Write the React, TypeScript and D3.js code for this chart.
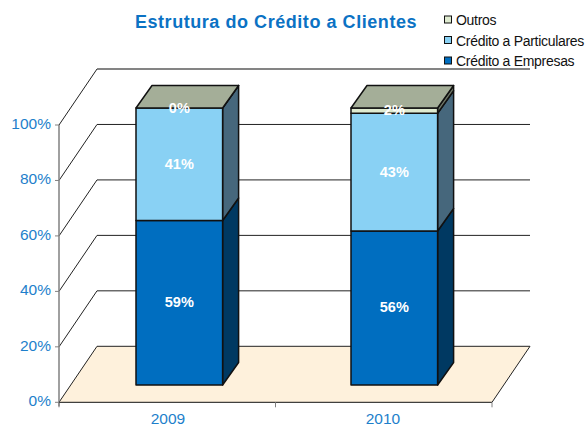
import React from "react";
import * as d3 from "d3";

const categories = ["2009", "2010"];
const seriesNames = ["Crédito a Empresas", "Crédito a Particulares", "Outros"];
const empresas = [59.4, 55.6];
const particulares = [40.6, 42.5];
const outros = [0, 1.9];
const yTicks = [0, 20, 40, 60, 80, 100];
const legendOrder = ["Outros", "Crédito a Particulares", "Crédito a Empresas"];

const frontFill: Record<string, string> = {
  "Crédito a Empresas": "#006EC0",
  "Crédito a Particulares": "#89D1F4",
  Outros: "#DFEBD0",
};
const sideFill: Record<string, string> = {
  "Crédito a Empresas": "#003962",
  "Crédito a Particulares": "#46677C",
  Outros: "#707868",
};
const topFill: Record<string, string> = {
  "Crédito a Empresas": "#00508C",
  "Crédito a Particulares": "#64889C",
  Outros: "#A4AE98",
};

const FONT = "'Liberation Sans', Arial, sans-serif";
const BLUE = "#1E7FCB";

export default function App() {
  const y = d3.scaleLinear().domain([0, 100]).range([402.3, 125]);
  const labelX = d3.scalePoint().domain(categories).range([168, 383]);
  const wallDx = 38;
  const wallDy = -56;
  // bars stand in the middle of the floor depth
  const barY = d3.scaleLinear().domain([0, 100]).range([385, 108]);
  const barX = d3.scalePoint().domain(categories).range([136, 351]);
  const barDx = 16;
  const barDy = -22.5;
  const barWidth = 86.6;
  const barLeft = (c: string) => barX(c) as number;

  const stacked = d3
    .stack<number>()
    .keys(["0", "1", "2"])
    .value((i, k) => [empresas, particulares, outros][+k][i])(
    categories.map((_, i) => i)
  );

  const line = (pts: [number, number][]) => d3.line()(pts) as string;

  return (
    <svg
      width={587}
      height={427}
      style={{ position: "absolute", left: 0, top: 0, fontFamily: FONT }}
    >
      <rect width={587} height={427} fill="#fff" />
      {/* floor */}
      <path
        d={
          line([
            [59, y(0)],
            [59 + wallDx, y(0) + wallDy],
            [492 + wallDx, y(0) + wallDy],
            [492, y(0)],
          ]) + "Z"
        }
        fill="#FEF1DC"
      />
      {/* walls and gridlines */}
      {yTicks.map((t) => (
        <g key={t}>
          <path
            d={line([
              [59, y(t)],
              [59 + wallDx, y(t) + wallDy],
              [492 + wallDx, y(t) + wallDy],
            ])}
            fill="none"
            stroke="#222"
            strokeWidth={1}
          />
          <line x1={55} x2={59} y1={y(t)} y2={y(t)} stroke="#808080" />
          <text
            x={51}
            y={y(t) + 4}
            textAnchor="end"
            fontSize={15.5}
            fill={BLUE}
          >
            {t}%
          </text>
        </g>
      ))}
      <line
        x1={59 + wallDx}
        x2={492 + wallDx}
        y1={y(100) + wallDy}
        y2={y(100) + wallDy}
        stroke="#808080"
        strokeWidth={1.5}
      />
      <path
        d={line([
          [492, y(0)],
          [492 + wallDx, y(0) + wallDy],
        ])}
        stroke="#222"
        fill="none"
      />
      {/* axes */}
      <line x1={59} x2={59} y1={y(100)} y2={y(0) + 4} stroke="#808080" strokeWidth={1.5} />
      <line x1={59} x2={492} y1={y(0)} y2={y(0)} stroke="#111" strokeWidth={1} />
      {[59, 275.5, 492].map((p) => (
        <line key={p} x1={p} x2={p} y1={y(0)} y2={y(0) + 5} stroke="#808080" />
      ))}
      {categories.map((c) => (
        <text
          key={c}
          x={labelX(c) as number}
          y={424}
          textAnchor="middle"
          fontSize={15.5}
          fill={BLUE}
        >
          {c}
        </text>
      ))}
      {/* bars */}
      {categories.map((c, i) => {
        const l = barLeft(c);
        const r = l + barWidth;
        return (
          <g key={c} stroke="#111" strokeWidth={1.5} strokeLinejoin="round">
            {stacked.map((s, k) => {
              const name = seriesNames[k];
              const y0 = barY(s[i][0]);
              const y1 = barY(s[i][1]);
              return (
                <g key={k}>
                  <path
                    d={
                      line([
                        [r, y0],
                        [r + barDx, y0 + barDy],
                        [r + barDx, y1 + barDy],
                        [r, y1],
                      ]) + "Z"
                    }
                    fill={sideFill[name]}
                  />
                  <rect x={l} y={y1} width={barWidth} height={y0 - y1} fill={frontFill[name]} />
                </g>
              );
            })}
            <path
              d={
                line([
                  [l, barY(100)],
                  [l + barDx, barY(100) + barDy],
                  [r + barDx, barY(100) + barDy],
                  [r, barY(100)],
                ]) + "Z"
              }
              fill={topFill.Outros}
            />
          </g>
        );
      })}
      {/* data labels */}
      {categories.map((c, i) =>
        stacked.map((s, k) => {
          const mid = (s[i][0] + s[i][1]) / 2;
          return (
            <text
              key={c + k}
              x={barLeft(c) + barWidth / 2}
              y={barY(mid) + 4.5}
              textAnchor="middle"
              fontSize={14.5}
              fontWeight="bold"
              fill="#fff"
            >
              {Math.round([empresas, particulares, outros][k][i])}%
            </text>
          );
        })
      )}
      {/* title */}
      <text
        x={276}
        y={28}
        textAnchor="middle"
        fontSize={18}
        fontWeight="bold"
        letterSpacing={0.55}
        fill="#0B72C4"
      >
        Estrutura do Crédito a Clientes
      </text>
      {/* legend */}
      {legendOrder.map((name, i) => (
        <g key={name}>
          <rect
            x={444.5}
            y={16 + i * 20.5}
            width={7}
            height={7}
            fill={frontFill[name]}
            stroke="#111"
            strokeWidth={1}
          />
          <text x={456} y={25 + i * 20.5} fontSize={14} letterSpacing={-0.3} fill="#111">
            {name}
          </text>
        </g>
      ))}
    </svg>
  );
}
